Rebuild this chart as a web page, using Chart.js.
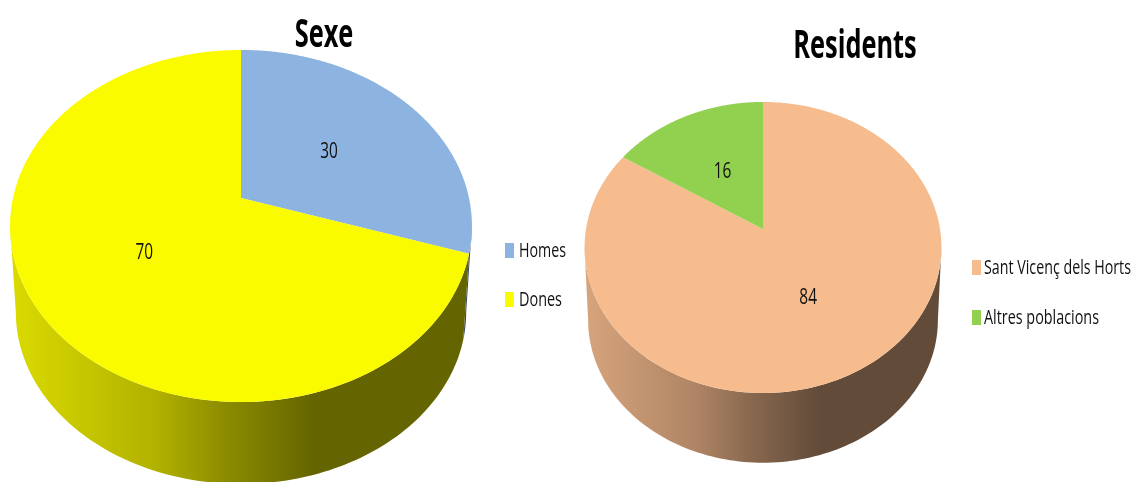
<!DOCTYPE html>
<html lang="ca">
<head>
    <meta charset="UTF-8">
    <title>Sexe i Residents</title>
    <script src="https://cdn.jsdelivr.net/npm/chart.js"></script>
    <style>
        html, body { margin: 0; padding: 0; background: #fff; overflow: hidden; }
        body { width: 1133px; height: 482px; position: relative; font-family: 'Open Sans', sans-serif; color: #111; }
        canvas { position: absolute; top: 0; }
        .title { position: absolute; font-weight: bold; font-size: 39px; line-height: 40px; transform: translateX(-50%) scaleX(0.65); white-space: nowrap; color: #000; }
        .legend-box { position: absolute; width: 9px; height: 15px; }
        .legend-text { position: absolute; font-size: 20px; line-height: 20px; white-space: nowrap; transform-origin: left center; }
    </style>
</head>
<body>
    <canvas id="sexeChart"></canvas>
    <canvas id="residentsChart"></canvas>
    <div class="title" style="left:324px; top:12px">Sexe</div>
    <div class="title" style="left:855px; top:23px">Residents</div>
    <div id="legends"></div>

    <script>
        const sexeLabels = ["Homes", "Dones"];
        const sexeValues = [30, 70];
        const sexeColors = ["#8DB3E0", "#FBFB00"];

        const residentsLabels = ["Sant Vicenç dels Horts", "Altres poblacions"];
        const residentsValues = [84, 16];
        const residentsColors = ["#F6BC8E", "#92D050"];

        // where the point lands after tilting the flat pie
        function project(el, angle, f, t) {
            const u = f * Math.cos(angle), v = f * Math.sin(angle);
            const w = 1 - t.persp * v;
            return {
                x: el.x + el.outerRadius * u / w,
                y: el.y + t.shift + el.outerRadius * t.squash * v / w
            };
        }

        function shade(hex, factor) {
            const n = parseInt(hex.slice(1), 16);
            const c = [n >> 16, (n >> 8) & 255, n & 255].map(x => Math.round(x * factor));
            return `rgb(${c[0]},${c[1]},${c[2]})`;
        }

        function drawWall(ctx, el, t) {
            // the wall shows only between the left and right extremes of the rim
            const edge = Math.asin(t.persp);
            const from = Math.max(el.startAngle, edge), to = Math.min(el.endAngle, Math.PI - edge);
            if (to <= from) return;
            const R = el.outerRadius, apexY = el.y + t.shift;
            const grad = ctx.createLinearGradient(el.x - R, 0, el.x + R, 0);
            const color = el.options.backgroundColor;
            [[0, 0.87], [0.31, 0.71], [0.46, 0.56], [0.66, 0.40], [1, 0.40]].forEach(s => grad.addColorStop(s[0], shade(color, s[1])));
            const top = [], bottom = [];
            for (let i = 0; i <= 120; i++) {
                const p = project(el, from + (to - from) * i / 120, 1, t);
                top.push(p);
                bottom.push({ x: el.x + (p.x - el.x) * t.wallScale, y: apexY + (p.y - apexY) * t.wallScale + t.depth });
            }
            ctx.beginPath();
            top.concat(bottom.reverse()).forEach((p, i) => i ? ctx.lineTo(p.x, p.y) : ctx.moveTo(p.x, p.y));
            ctx.closePath();
            ctx.fillStyle = grad;
            ctx.fill();
        }

        function drawTop(ctx, el, t) {
            ctx.beginPath();
            const c = project(el, 0, 0, t);
            ctx.moveTo(c.x, c.y);
            for (let i = 0; i <= 240; i++) {
                const p = project(el, el.startAngle + (el.endAngle - el.startAngle) * i / 240, 1, t);
                ctx.lineTo(p.x, p.y);
            }
            ctx.closePath();
            ctx.fillStyle = el.options.backgroundColor;
            ctx.fill();
        }

        const tiltPlugin = {
            id: "tilt",
            beforeDatasetsDraw(chart, args, t) {
                const ctx = chart.ctx;
                const arcs = chart.getDatasetMeta(0).data;
                const values = chart.data.datasets[0].data;
                arcs.forEach(el => drawWall(ctx, el, t));
                arcs.forEach(el => drawTop(ctx, el, t));
                ctx.fillStyle = "#111";
                ctx.font = "22px 'Open Sans', sans-serif";
                ctx.textAlign = "center";
                ctx.textBaseline = "middle";
                arcs.forEach((el, i) => {
                    const p = project(el, (el.startAngle + el.endAngle) / 2, 0.5, t);
                    ctx.save();
                    ctx.translate(p.x, p.y + 2);
                    ctx.scale(0.7, 1);
                    ctx.fillText(values[i], 0, 0);
                    ctx.restore();
                });
                return false;
            }
        };

        function makePie(id, left, labels, values, colors, padding, tilt) {
            const canvas = document.getElementById(id);
            canvas.style.left = left + "px";
            return new Chart(canvas, {
                type: "pie",
                data: { labels: labels, datasets: [{ data: values, backgroundColor: colors, borderWidth: 0 }] },
                options: {
                    responsive: false,
                    animation: false,
                    layout: { padding: padding },
                    plugins: { legend: { display: false }, tooltip: { enabled: false }, tilt: tilt }
                },
                plugins: [tiltPlugin]
            });
        }

        function sizeCanvas(id, w, h) {
            const c = document.getElementById(id);
            c.width = w; c.height = h;
            c.style.width = w + "px"; c.style.height = h + "px";
        }

        sizeCanvas("sexeChart", 500, 482);
        sizeCanvas("residentsChart", 633, 482);

        makePie("sexeChart", 0, sexeLabels, sexeValues, sexeColors,
            { left: 13, right: 31, top: 13, bottom: 13 },
            { persp: 0.159, squash: 0.7526, shift: -43, depth: 87, wallScale: 0.975 });
        makePie("residentsChart", 500, residentsLabels, residentsValues, residentsColors,
            { left: 86, right: 193, top: 64, bottom: 64 },
            { persp: 0.127, squash: 0.809, shift: -12, depth: 73, wallScale: 0.98 });

        // legends
        function addLegend(labels, colors, boxX, textX, ys, widths) {
            const holder = document.getElementById("legends");
            labels.forEach((label, i) => {
                const box = document.createElement("div");
                box.className = "legend-box";
                box.style.left = boxX + "px";
                box.style.top = (ys[i] - 7.5) + "px";
                box.style.background = colors[i];
                holder.appendChild(box);
                const text = document.createElement("div");
                text.className = "legend-text";
                text.textContent = label;
                text.style.left = textX + "px";
                text.style.top = (ys[i] - 10) + "px";
                holder.appendChild(text);
                text.style.transform = `scaleX(${widths[i] / text.getBoundingClientRect().width})`;
            });
        }
        addLegend(sexeLabels, sexeColors, 505, 519, [250, 299], [47, 43]);
        addLegend(residentsLabels, residentsColors, 972, 984, [267, 317], [147, 115]);
    </script>
</body>
</html>
